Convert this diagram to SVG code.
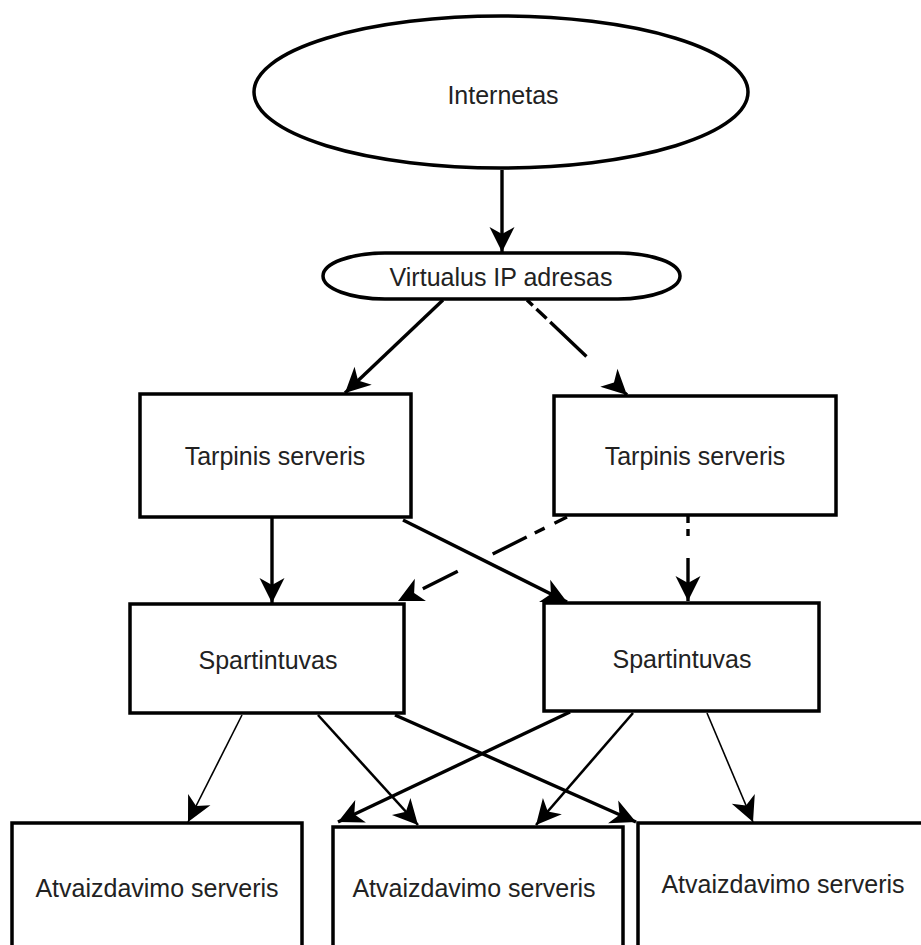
<svg xmlns="http://www.w3.org/2000/svg" width="921" height="945" viewBox="0 0 921 945">
<style>
  .shape { fill: #ffffff; stroke: #000000; stroke-width: 3.5; }
  .label { font-family: "Liberation Sans", Arial, sans-serif; font-size: 25px; fill: #222222; text-anchor: middle; }
  .con { fill: none; stroke: #000000; stroke-linecap: butt; marker-end: url(#arrow); }
  .thick { stroke-width: 3.4; }
  .mid { stroke-width: 2.6; }
  .thin { stroke-width: 1.6; }
</style>
<defs>
  <marker id="arrow" markerUnits="userSpaceOnUse" viewBox="-26 -14 28 28" refX="0" refY="0" markerWidth="28" markerHeight="28" orient="auto">
    <path d="M0,0 L-25,-12.5 L-18,0 L-25,12.5 Z" fill="#000000"/>
  </marker>
</defs>
<rect width="921" height="945" fill="#ffffff"/>

<g id="internetas">
  <ellipse class="shape" cx="501" cy="92" rx="247" ry="76"/>
  <text class="label" x="503" y="104">Internetas</text>
</g>

<g id="virtualus-ip">
  <rect class="shape" x="323" y="253" width="357" height="46" rx="62" ry="23"/>
  <text class="label" x="501" y="286">Virtualus IP adresas</text>
</g>

<g id="tarpinis-1">
  <rect class="shape" x="140" y="394" width="271" height="123"/>
  <text class="label" x="275" y="465">Tarpinis serveris</text>
</g>

<g id="tarpinis-2">
  <rect class="shape" x="554" y="396" width="282" height="119"/>
  <text class="label" x="695" y="465">Tarpinis serveris</text>
</g>

<g id="spartintuvas-1">
  <rect class="shape" x="130" y="604" width="274" height="109"/>
  <text class="label" x="268" y="669">Spartintuvas</text>
</g>

<g id="spartintuvas-2">
  <rect class="shape" x="544" y="603" width="275" height="108"/>
  <text class="label" x="682" y="668">Spartintuvas</text>
</g>

<g id="atvaizdavimo-1">
  <rect class="shape" x="12" y="823" width="290" height="140"/>
  <text class="label" x="157" y="897">Atvaizdavimo serveris</text>
</g>

<g id="atvaizdavimo-2">
  <rect class="shape" x="333" y="827" width="290" height="140"/>
  <text class="label" x="474" y="897" font-size="26">Atvaizdavimo serveris</text>
</g>

<g id="atvaizdavimo-3">
  <rect class="shape" x="638" y="823" width="300" height="140"/>
  <text class="label" x="783" y="893">Atvaizdavimo serveris</text>
</g>

<g id="connectors">
  <line class="con thick" x1="502" y1="170" x2="502" y2="252"/>
  <line class="con thick" x1="443" y1="300" x2="345" y2="393"/>
  <line class="con thick" x1="527" y1="300" x2="627" y2="395" stroke-dasharray="8 5 14 5 50 40"/>
  <line class="con thick" x1="272" y1="518" x2="272" y2="603"/>
  <line class="con thick" x1="403" y1="520" x2="567" y2="602"/>
  <line class="con thick" x1="567" y1="517" x2="398" y2="601" stroke-dasharray="14 11 11 9 38 39 39 60"/>
  <line class="con thick" x1="688" y1="516" x2="688" y2="601" stroke-dasharray="7 6 7 22 60"/>
  <line class="con thin" x1="242" y1="715" x2="188" y2="822"/>
  <line class="con mid" x1="318" y1="715" x2="418" y2="825"/>
  <line class="con thick" x1="395" y1="715" x2="636" y2="822"/>
  <line class="con thick" x1="570" y1="712" x2="338" y2="822"/>
  <line class="con mid" x1="633" y1="713" x2="536" y2="825"/>
  <line class="con thin" x1="707" y1="713" x2="753" y2="822"/>
</g>
</svg>
